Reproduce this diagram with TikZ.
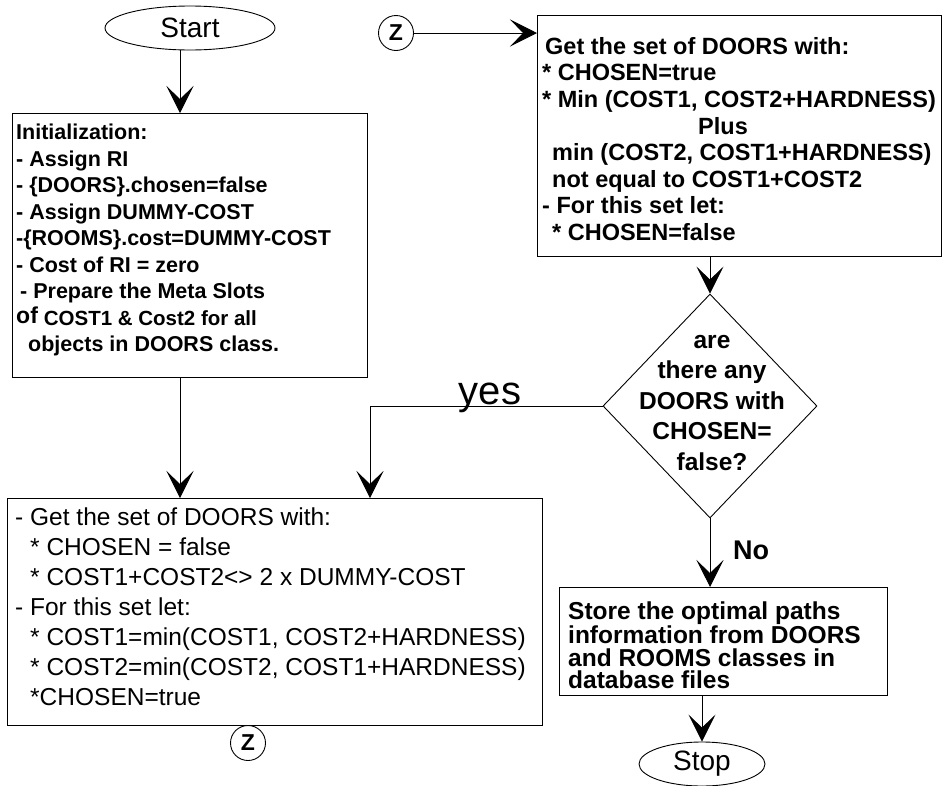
\documentclass[tikz,border=0pt]{standalone}
\usepackage{fontspec}
\setmainfont{Liberation Sans}
\usetikzlibrary{arrows.meta,shapes.geometric,calc}
\begin{document}
\begin{tikzpicture}[x=1pt,y=-1pt,
  frame/.style={draw, line width=1.1pt, rectangle, inner sep=0pt, anchor=north west},
  body/.style={anchor=north west, align=left, inner sep=0pt},
  flow/.style={line width=0.9pt, -{Stealth[length=27pt,width=27pt,inset=13pt]}},
  term/.style={draw, ellipse, line width=0.9pt, inner sep=0pt},
  conn/.style={draw, circle, line width=0.9pt, minimum size=35pt, inner sep=0pt,
    font=\bfseries\fontsize{23}{23}\selectfont},
  lbl/.style={inner sep=0pt}]
\useasboundingbox (0,0) rectangle (943,785);

% terminals
\node[term, minimum width=170pt, minimum height=44pt,
      font=\fontsize{28}{28}\selectfont] (start) at (190,28) {Start};
\node[term, minimum width=126pt, minimum height=44pt,
      font=\fontsize{28}{28}\selectfont] (stop) at (702,764) {Stop};

% connector circles
\node[conn] (ztop) at (396,33) {Z};
\node[conn] (zbot) at (248,743) {Z};

% initialization box
\node[frame, minimum width=355pt, minimum height=264pt] (init) at (12,113) {};
\node[body, font=\bfseries\fontsize{21.5}{26.5}\selectfont] (initT) at (16,124)
  {Initialization:\\
   - Assign RI\\
   - \{DOORS\}.chosen=false\\
   - Assign DUMMY-COST\\
   -\{ROOMS\}.cost=DUMMY-COST\\
   - Cost of RI = zero\\
   \hspace*{4pt}- Prepare the Meta Slots\\
   \raisebox{2pt}{\fontsize{23}{26.5}\selectfont of} {\fontsize{20.5}{26.5}\selectfont COST1 \& Cost2 for all}\\
   \hspace*{12pt}objects in DOORS class.};

% main update box
\node[frame, minimum width=535pt, minimum height=227pt] (upd) at (7,498) {};
\node[body, font=\fontsize{24.5}{30}\selectfont] (updT) at (15,508)
  {- Get the set of DOORS with:\\
   \hspace*{15pt}* CHOSEN = false\\
   \hspace*{15pt}* COST1+COST2<> 2 x DUMMY-COST\\
   - For this set let:\\
   \hspace*{15pt}* COST1=min(COST1, COST2+HARDNESS)\\
   \hspace*{15pt}* COST2=min(COST2, COST1+HARDNESS)\\
   \hspace*{15pt}*CHOSEN=true};

% reset box
\node[frame, minimum width=404pt, minimum height=241pt] (reset) at (537,15) {};
\node[body, font=\bfseries\fontsize{23.5}{26.6}\selectfont] (resetT) at (542,37)
  {\hspace*{3pt}Get the set of DOORS with:\\
   * CHOSEN=true\\
   * Min (COST1, COST2+HARDNESS)\\
   \hspace*{156pt}Plus\\
   \hspace*{10pt}min (COST2, COST1+HARDNESS)\\
   \hspace*{10pt}not equal to COST1+COST2\\
   - For this set let:\\
   \hspace*{10pt}* CHOSEN=false};

% decision
\node[draw, diamond, line width=0.9pt, minimum width=214pt, minimum height=224pt,
      inner sep=0pt] (dec) at (710,406) {};
\node[lbl, anchor=north, align=center, font=\bfseries\fontsize{24.5}{30.5}\selectfont]
  (decT) at (712,335) {are\\there any\\DOORS with\\CHOSEN=\\false?};

% store box
\node[frame, minimum width=328pt, minimum height=108pt] (store) at (559,587) {};
\node[body, font=\bfseries\fontsize{24.5}{22.6}\selectfont] (storeT) at (568,602)
  {Store the optimal paths\\
   information from DOORS\\
   and ROOMS classes in\\
   database files};

% branch labels
\node[lbl, anchor=base, font=\fontsize{40}{40}\selectfont] (yes) at (490,404) {yes};
\node[lbl, anchor=west, font=\bfseries\fontsize{27}{27}\selectfont] (no) at (733,550) {No};

% bend points
\coordinate (colA) at (180,0);
\coordinate (colB) at (370,0);

% connectors
\draw[flow] (start.south -| colA) -- (init.north -| colA);
\draw[flow] (init.south -| colA) -- (upd.north -| colA);
\draw[flow] (ztop.east) -- (reset.west |- ztop.east);
\draw[flow] (reset.south -| dec.north) -- (dec.north);
\draw[flow] (dec.west) -- (dec.west -| colB) -- (colB |- upd.north);
\draw[flow] (dec.south) -- (store.north -| dec.south);
\draw[flow] (store.south -| stop.north) -- (stop.north);
\end{tikzpicture}
\end{document}
